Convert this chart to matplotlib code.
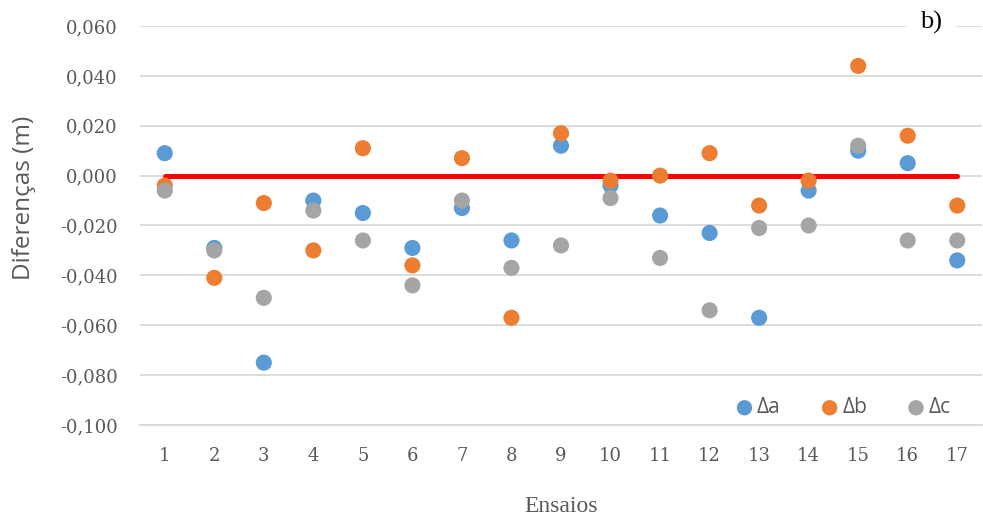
import matplotlib
matplotlib.use("Agg")
import matplotlib.pyplot as plt
from matplotlib.ticker import FuncFormatter, MultipleLocator

# leitura aproximada do grafico de referencia
ensaios = list(range(1, 18))
delta_a = [0.009, -0.029, -0.075, -0.010, -0.015, -0.029, -0.013, -0.026, 0.012,
           -0.004, -0.016, -0.023, -0.057, -0.006, 0.010, 0.005, -0.034]
delta_b = [-0.004, -0.041, -0.011, -0.030, 0.011, -0.036, 0.007, -0.057, 0.017,
           -0.002, 0.000, 0.009, -0.012, -0.002, 0.044, 0.016, -0.012]
delta_c = [-0.006, -0.030, -0.049, -0.014, -0.026, -0.044, -0.010, -0.037, -0.028,
           -0.009, -0.033, -0.054, -0.021, -0.020, 0.012, -0.026, -0.026]
series = [("Δa", delta_a, "#5B9BD5"), ("Δb", delta_b, "#ED7D31"), ("Δc", delta_c, "#A5A5A5")]

serif = ["DejaVu Serif"]
serif2 = ["Liberation Serif", "DejaVu Serif"]
sans = ["Open Sans", "DejaVu Sans"]
txt = "#595959"


def fmt(v, pos):
    s = f"{v:.3f}"
    if s == "-0.000":
        s = "0.000"
    return s.replace(".", ",")


fig = plt.figure(figsize=(9.83, 5.20), dpi=100)
ax = fig.add_axes([0.1424, 0.1827, 0.8566, 0.7673])

ax.plot([ensaios[0], ensaios[-1]], [0, 0], color="#FF0000", lw=3.6,
        solid_capstyle="round", zorder=2)
for name, vals, color in series:
    ax.scatter(ensaios, vals, s=135, color=color, edgecolors="none", label=name, zorder=3)

ax.set_xlim(0.5, 17.5)
ax.set_ylim(-0.1, 0.06)
ax.set_xticks(ensaios)
ax.yaxis.set_major_locator(MultipleLocator(0.02))
ax.yaxis.set_major_formatter(FuncFormatter(fmt))
ax.grid(axis="y", color="#D9D9D9", lw=1.3, zorder=0)
ax.set_axisbelow(True)
for s in ["top", "right", "left"]:
    ax.spines[s].set_visible(False)
ax.spines["bottom"].set_color("#D9D9D9")
ax.spines["bottom"].set_linewidth(1.3)
ax.tick_params(length=0, colors=txt, labelsize=13)
ax.tick_params(axis="y", pad=16)
ax.tick_params(axis="x", pad=16)
for lab in ax.get_xticklabels() + ax.get_yticklabels():
    lab.set_family(serif)

ax.set_ylabel("Diferenças (m)", family=sans, fontsize=17.5, color=txt)
ax.yaxis.set_label_coords(-0.124, 0.57)
ax.set_xlabel("Ensaios", family=serif2, fontsize=17, color=txt, labelpad=22)
fig.text(0.936, 0.957, "b)", family=serif2, fontsize=19, color="black", va="center",
         bbox=dict(facecolor="white", edgecolor="none", pad=10))

leg = ax.legend(loc="lower right", ncol=3, frameon=False, prop={"family": sans, "size": 15},
                labelcolor=txt, handlelength=0.7, handletextpad=0.25, columnspacing=2.0,
                markerscale=0.95, bbox_to_anchor=(0.985, -0.03))

fig.savefig("out.png", dpi=100)
